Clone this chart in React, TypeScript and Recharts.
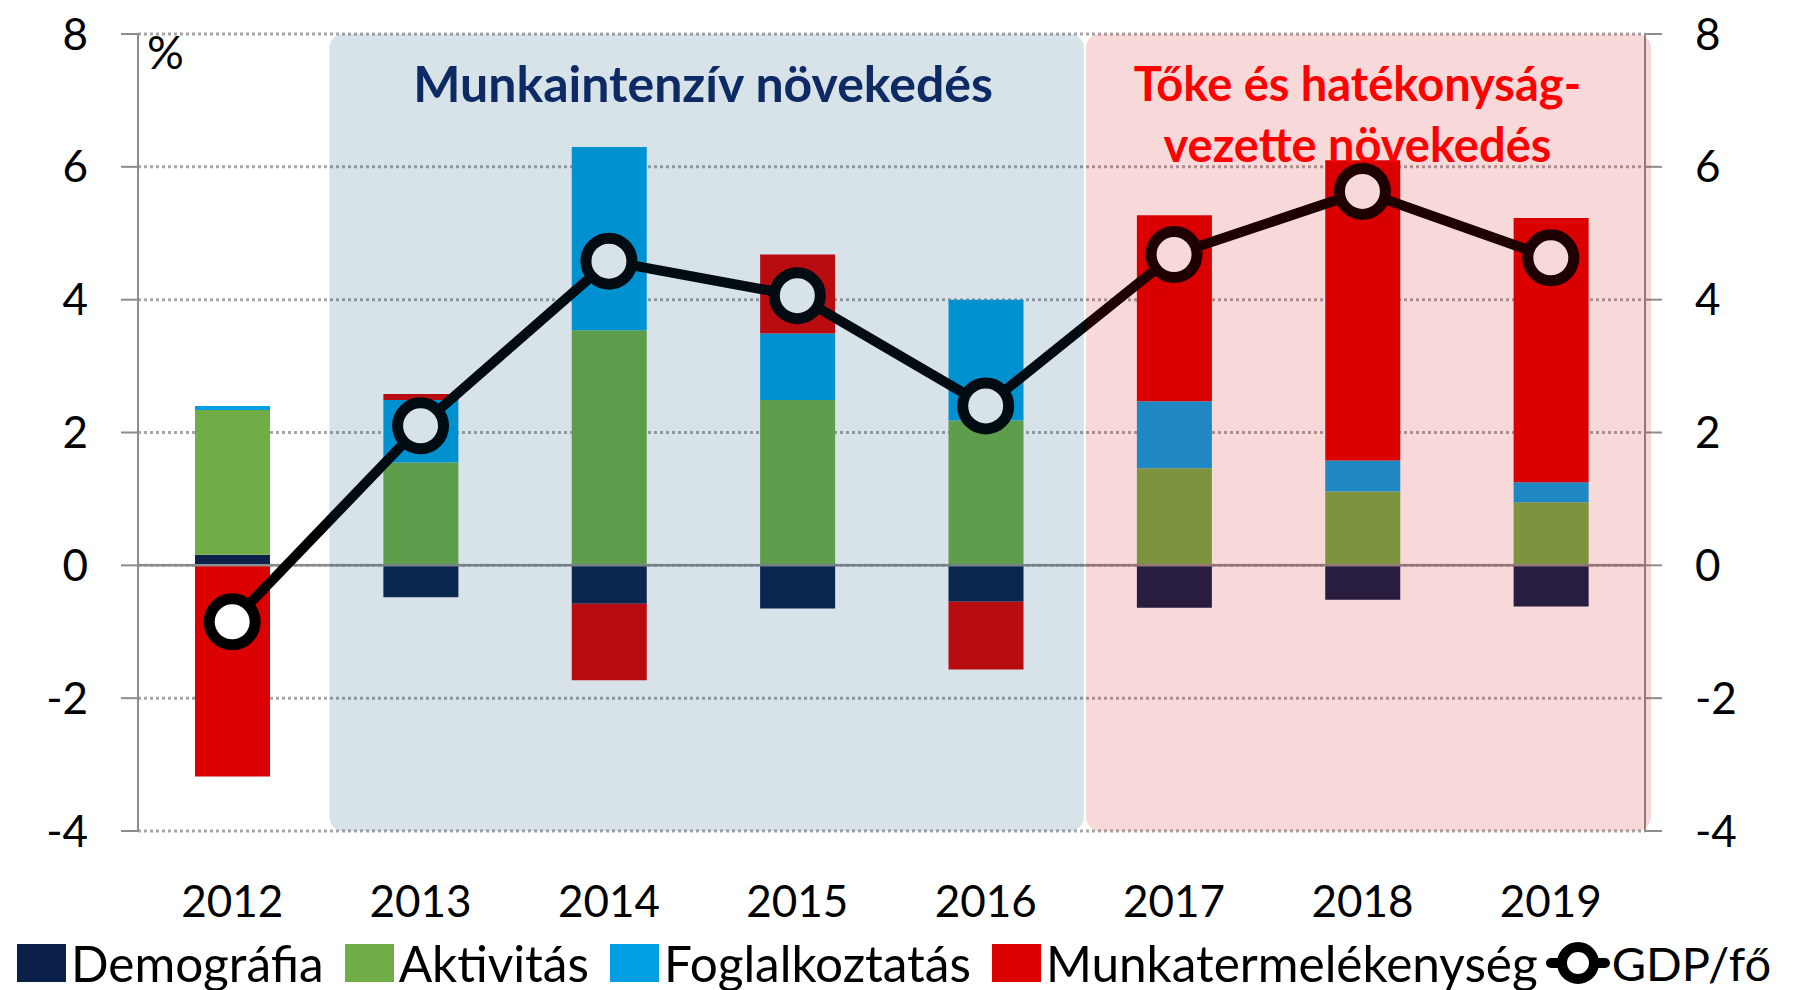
import {
  Bar,
  CartesianGrid,
  ComposedChart,
  Legend,
  Line,
  ReferenceArea,
  ReferenceLine,
  XAxis,
  YAxis,
} from "recharts";

const years = ["2012", "2013", "2014", "2015", "2016", "2017", "2018", "2019"];
const demografia = [0.16, -0.48, -0.58, -0.65, -0.55, -0.64, -0.52, -0.62];
const aktivitas = [2.18, 1.55, 3.54, 2.49, 2.18, 1.46, 1.11, 0.95];
const foglalkoztatas = [0.06, 0.94, 2.76, 1.0, 1.82, 1.01, 0.47, 0.3];
const munkatermelekenyseg = [-3.18, 0.09, -1.15, 1.19, -1.02, 2.8, 4.52, 3.98];
const gdpPerFo = [-0.85, 2.1, 4.58, 4.06, 2.4, 4.68, 5.63, 4.63];

const yTicks = [-4, -2, 0, 2, 4, 6, 8];

const TITLE_LEFT = "Munkaintenzív növekedés";
const TITLE_RIGHT = ["Tőke és hatékonyság-", "vezette növekedés"];

const DEMOG = "#0B2149";
const AKTIV = "#70AD47";
const FOGL = "#009FE3";
const MUNK = "#DC0000";
const AXIS = "#8C8C8C";
const FONT = "Lato, 'Open Sans', sans-serif";

const data = years.map((year, i) => ({
  year,
  demografia: demografia[i],
  aktivitas: aktivitas[i],
  foglalkoztatas: foglalkoztatas[i],
  munkatermelekenyseg: munkatermelekenyseg[i],
  gdp: gdpPerFo[i],
}));

const legendItems = [
  { name: "Demográfia", color: DEMOG },
  { name: "Aktivitás", color: AKTIV },
  { name: "Foglalkoztatás", color: FOGL },
  { name: "Munkatermelékenység", color: MUNK },
];

const LegendContent = () => (
  <div
    style={{
      display: "flex",
      alignItems: "center",
      height: 55,
      paddingLeft: 17,
      fontFamily: FONT,
      fontSize: 49.5,
      color: "#000",
      whiteSpace: "nowrap",
    }}
  >
    {legendItems.map((it, i) => (
      <span
        key={it.name}
        style={{
          display: "inline-flex",
          alignItems: "center",
          marginRight: i === legendItems.length - 1 ? 8 : 21,
        }}
      >
        <span
          style={{
            display: "inline-block",
            width: 49,
            height: 38,
            background: it.color,
            marginRight: 5,
          }}
        />
        {it.name}
      </span>
    ))}
    <span style={{ display: "inline-flex", alignItems: "center", fontSize: 47 }}>
      <svg width={64} height={50} style={{ marginRight: 2 }}>
        <line x1={5} y1={25} x2={59} y2={25} stroke="#000" strokeWidth={10} strokeLinecap="round" />
        <circle cx={32} cy={25} r={16} fill="#fff" stroke="#000" strokeWidth={10} />
      </svg>
      GDP/fő
    </span>
  </div>
);

const GdpDot = (props: any) => {
  const { cx, cy, index } = props;
  if (cx == null || cy == null) return <g key={index} />;
  return (
    <circle
      key={index}
      cx={cx}
      cy={cy}
      r={23}
      fill="#fff"
      stroke="#000"
      strokeWidth={11}
    />
  );
};

const LeftRegion = (props: any) => {
  const { x, y, width, height } = props;
  const cx = x + width / 2;
  return (
    <g>
      <rect
        x={x + 3}
        y={y}
        width={width + 1}
        height={height}
        rx={14}
        ry={14}
        fill="rgb(3,74,106)"
        fillOpacity={0.155}
      />
      <text
        x={cx}
        y={y + 55}
        textAnchor="middle"
        dominantBaseline="middle"
        fontFamily={FONT}
        fontWeight={700}
        fontSize={50}
        fill="#0E2A64"
      >
        {TITLE_LEFT}
      </text>
    </g>
  );
};

const RightRegion = (props: any) => {
  const { x, y, width, height } = props;
  const cx = x + width / 2 - 5;
  return (
    <g>
      <rect
        x={x + 6}
        y={y}
        width={width}
        height={height}
        rx={14}
        ry={14}
        fill="rgb(208,0,8)"
        fillOpacity={0.15}
      />
      {TITLE_RIGHT.map((t, i) => (
        <text
          key={t}
          x={cx}
          y={y + 55 + i * 61}
          textAnchor="middle"
          dominantBaseline="middle"
          fontFamily={FONT}
          fontWeight={700}
          fontSize={47}
          fill="#FF0000"
        >
          {t}
        </text>
      ))}
    </g>
  );
};

const tickStyle = { fill: "#000", fontSize: 44, fontFamily: FONT };

export default function App() {
  return (
    <div style={{ position: "absolute", left: 0, top: 0, background: "#fff" }}>
      <ComposedChart
        width={1798}
        height={990}
        data={data}
        stackOffset="sign"
        margin={{ top: 34, right: 0, bottom: 0, left: 0 }}
      >
        <CartesianGrid
          yAxisId="left"
          vertical={false}
          stroke="#A6A6A6"
          strokeWidth={3}
          strokeDasharray="3 3"
        />
        <XAxis
          dataKey="year"
          axisLine={false}
          tickLine={false}
          tickSize={0}
          tickMargin={55}
          height={104}
          tick={tickStyle}
          interval={0}
        />
        <YAxis
          yAxisId="left"
          orientation="left"
          width={138}
          domain={[-4, 8]}
          ticks={yTicks}
          interval={0}
          tick={tickStyle}
          tickSize={17}
          tickMargin={33}
          axisLine={{ stroke: AXIS, strokeWidth: 2 }}
          tickLine={{ stroke: AXIS, strokeWidth: 2 }}
          allowDataOverflow
        />
        <YAxis
          yAxisId="right"
          orientation="right"
          width={153}
          domain={[-4, 8]}
          ticks={yTicks}
          interval={0}
          tick={tickStyle}
          tickSize={17}
          tickMargin={33}
          axisLine={{ stroke: AXIS, strokeWidth: 2 }}
          tickLine={{ stroke: AXIS, strokeWidth: 2 }}
          allowDataOverflow
        />
        <Legend verticalAlign="bottom" height={55} content={LegendContent} />
        <Bar yAxisId="left" dataKey="demografia" stackId="a" fill={DEMOG} barSize={75} isAnimationActive={false} />
        <Bar yAxisId="left" dataKey="aktivitas" stackId="a" fill={AKTIV} barSize={75} isAnimationActive={false} />
        <Bar yAxisId="left" dataKey="foglalkoztatas" stackId="a" fill={FOGL} barSize={75} isAnimationActive={false} />
        <Bar yAxisId="left" dataKey="munkatermelekenyseg" stackId="a" fill={MUNK} barSize={75} isAnimationActive={false} />
        <ReferenceLine yAxisId="left" y={0} stroke={AXIS} strokeWidth={2.5} />
        <Line
          yAxisId="left"
          dataKey="gdp"
          type="linear"
          stroke="#000"
          strokeWidth={10}
          dot={GdpDot}
          activeDot={false}
          isAnimationActive={false}
        />
        <ReferenceArea
          yAxisId="left"
          x1="2013"
          x2="2016"
          y1={-4}
          y2={8}
          shape={LeftRegion}
          zIndex={2500}
        />
        <ReferenceArea
          yAxisId="left"
          x1="2017"
          x2="2019"
          y1={-4}
          y2={8}
          shape={RightRegion}
          zIndex={2500}
        />
        <text x={147} y={57} dominantBaseline="middle" fontFamily={FONT} fontSize={46} fill="#000">
          %
        </text>
      </ComposedChart>
    </div>
  );
}
